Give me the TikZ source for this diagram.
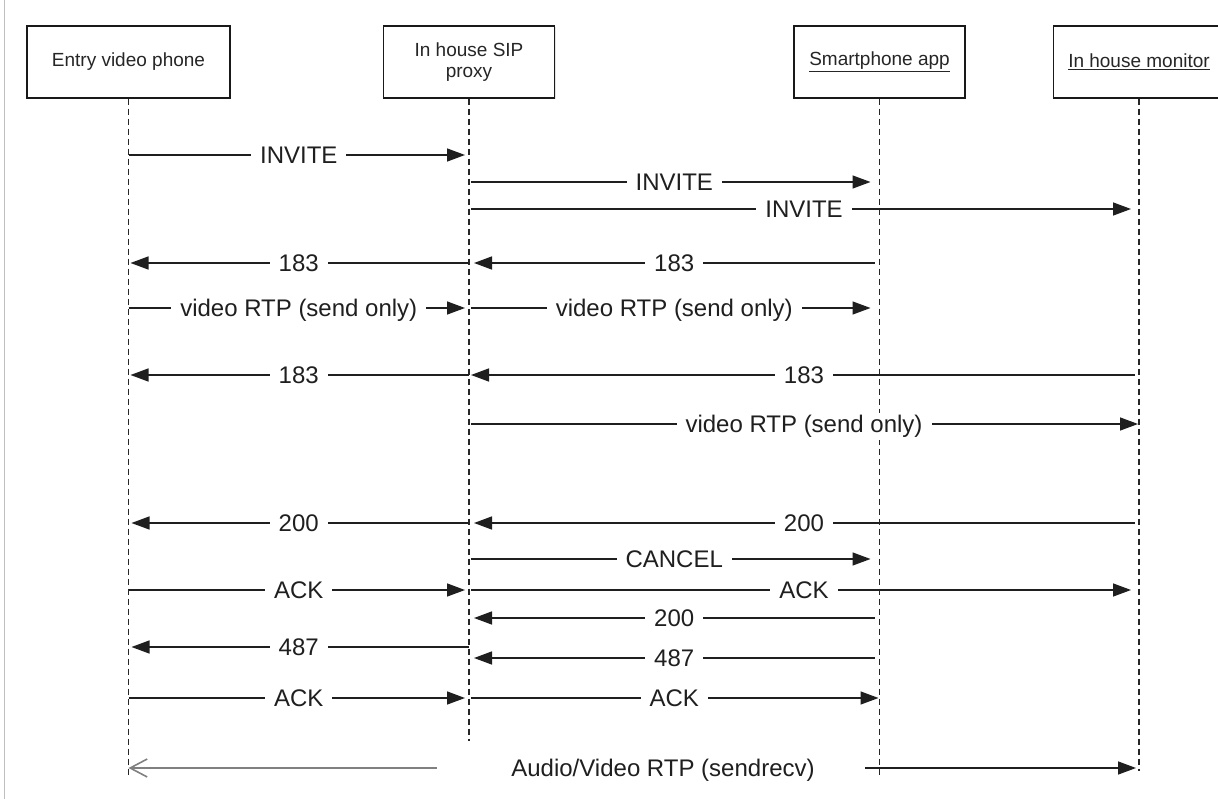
\documentclass[tikz,border=0pt]{standalone}
\usepackage{fontspec}
\setmainfont{Liberation Sans}
\usetikzlibrary{arrows.meta,shadows}
\newcommand\seqmsg[6]{%
  \draw[msg, shorten <=#5pt, shorten >=#6pt] (#1 |- 0,#3) -- node[lbl]{#4} (#2 |- 0,#3);}
\begin{document}
\begin{tikzpicture}[x=1pt,y=-1pt,
  actor/.style={draw=black!90, line width=1.3pt, fill=white, minimum width=171pt,
    minimum height=72pt, align=center, inner sep=0pt, text=black!85,
    font=\fontsize{19}{21}\selectfont,
    drop shadow={opacity=0.2,shadow xshift=1pt,shadow yshift=-1pt}},
  life/.style={dash pattern=on 6pt off 4pt, line width=1.2pt, black!85},
  msg/.style={line width=1.4pt, black!88, -{Triangle[length=18pt,width=13pt]}},
  lbl/.style={midway, fill=white, inner xsep=9pt, inner ysep=2pt, anchor=base,
    yshift=-8.6pt, text=black!88, font=\fontsize{24}{28}\selectfont},
  avlbl/.style={anchor=base, yshift=-8.6pt, text=black!88, font=\fontsize{24}{28}\selectfont},
  grayarrow/.style={line width=2pt, black!50, -{Straight Barb[length=17pt,width=18pt,line width=1.6pt]}},
]
\useasboundingbox (0,0) rectangle (1218,799);
\fill[white] (0,0) rectangle (1218,799);
\draw[black!25, line width=1pt] (4,0) -- (4,799);

% actors
\node[actor, minimum width=203pt] (E) at (128.5,62) {Entry video phone};
\node[actor] (P) at (469,62) {In house SIP\\proxy};
\node[actor] (S) at (879.5,62) {\underline{Smartphone app}};
\node[actor] (M) at (1139,62) {\underline{In house monitor}};

% lifelines
\draw[life] (E.south) -- ++(0,678);
\draw[life] (P.south) -- ++(0,642);
\draw[life] (S.south) -- ++(0,678);
\draw[life] (M.south) -- ++(0,672);

% messages
\seqmsg{E}{P}{155}{INVITE}{0}{4}
\seqmsg{P}{S}{182}{INVITE}{2}{9}
\seqmsg{P}{M}{209}{INVITE}{2}{8}
\seqmsg{P}{E}{263}{183}{0}{2}
\seqmsg{S}{P}{263}{183}{5}{5}
\seqmsg{E}{P}{308}{video RTP (send only)}{0}{4}
\seqmsg{P}{S}{308}{video RTP (send only)}{2}{9}
\seqmsg{P}{E}{375}{183}{0}{2}
\seqmsg{M}{P}{375}{183}{4}{2}
\seqmsg{P}{M}{424}{video RTP (send only)}{2}{1}
\seqmsg{P}{E}{523}{200}{0}{3}
\seqmsg{M}{P}{523}{200}{4}{5}
\seqmsg{P}{S}{559}{CANCEL}{2}{9}
\seqmsg{E}{P}{590}{ACK}{0}{4}
\seqmsg{P}{M}{590}{ACK}{2}{8}
\seqmsg{S}{P}{618}{200}{5}{5}
\seqmsg{P}{E}{647}{487}{0}{3}
\seqmsg{S}{P}{658}{487}{5}{5}
\seqmsg{E}{P}{698}{ACK}{0}{4}
\seqmsg{P}{S}{698}{ACK}{2}{1}

% bottom media stream
\node[avlbl] (AV) at (663,768) {Audio/Video RTP (sendrecv)};
\coordinate (avl) at (437,768);
\coordinate (avr) at (865,768);
\draw[grayarrow] (avl) -- (E |- avl);
\draw[msg, shorten >=3pt] (avr) -- (M |- avr);
\end{tikzpicture}
\end{document}
